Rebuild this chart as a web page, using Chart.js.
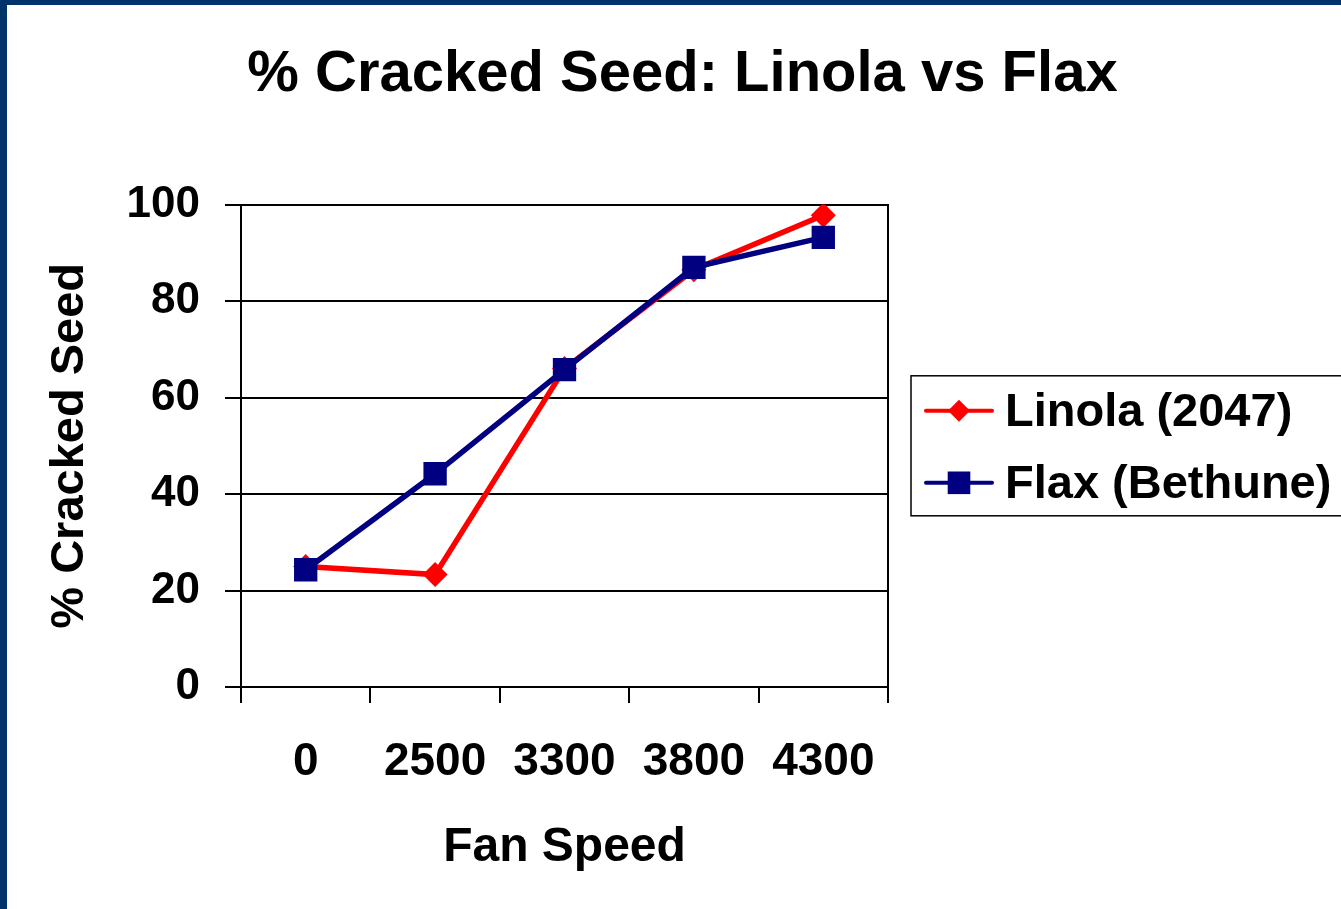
<!DOCTYPE html>
<html>
<head>
<meta charset="utf-8">
<title>% Cracked Seed: Linola vs Flax</title>
<script src="https://cdn.jsdelivr.net/npm/chart.js@4.4.1/dist/chart.umd.min.js"></script>
<style>
  html, body { margin: 0; padding: 0; background: #fff; overflow: hidden; }
  canvas { display: block; }
</style>
</head>
<body>
<canvas id="seedChart" width="1341" height="909"></canvas>
<script>
// values
const fanSpeeds = ['0', '2500', '3300', '3800', '4300'];
const linolaCracked = [25, 23.3, 66, 86.5, 97.8];
const flaxCracked = [24.3, 44.2, 65.8, 87, 93.2];
const yTicks = [0, 20, 40, 60, 80, 100];

const FONT = '"Liberation Sans", Arial, sans-serif';
Chart.defaults.font.family = FONT;
Chart.defaults.font.weight = 'bold';
Chart.defaults.color = '#000';

// dark blue slide frame on top and left edge
const slideFrame = {
  id: 'slideFrame',
  afterDraw(chart) {
    const ctx = chart.ctx;
    ctx.save();
    ctx.fillStyle = '#00336a';
    ctx.fillRect(0, 0, chart.width, 5);
    ctx.fillRect(0, 0, 7, chart.height);
    ctx.restore();
  }
};

// excel style legend box: line + marker, to the right of the plot
const boxLegend = {
  id: 'boxLegend',
  afterDraw(chart) {
    const {ctx, chartArea} = chart;
    const left = chartArea.right + 23;
    const midY = (chartArea.top + chartArea.bottom) / 2;
    const top = midY - 70;
    ctx.save();
    ctx.strokeStyle = '#000';
    ctx.lineWidth = 1.5;
    ctx.strokeRect(left, top, chart.width - left + 10, 140);
    ctx.font = 'bold 47px ' + FONT;
    ctx.textBaseline = 'middle';
    ctx.textAlign = 'left';
    const rows = [midY - 35, midY + 37];
    chart.data.datasets.forEach((ds, i) => {
      const y = rows[i];
      ctx.strokeStyle = ds.borderColor;
      ctx.lineWidth = 4;
      ctx.lineCap = 'round';
      ctx.beginPath();
      ctx.moveTo(left + 15, y);
      ctx.lineTo(left + 81, y);
      ctx.stroke();
      ctx.fillStyle = ds.backgroundColor;
      Chart.helpers.drawPoint(ctx, {
        pointStyle: ds.pointStyle,
        radius: ds.legendRadius,
        borderWidth: 0,
        rotation: 0
      }, left + 48, y);
      ctx.fillStyle = '#000';
      ctx.fillText(ds.label, left + 94, y + 2);
    });
    ctx.restore();
  }
};

const ctx = document.getElementById('seedChart').getContext('2d');
const chart = new Chart(ctx, {
  type: 'line',
  data: {
    labels: fanSpeeds,
    datasets: [
      {
        label: 'Linola (2047)',
        data: linolaCracked,
        borderColor: '#ff0000',
        backgroundColor: '#ff0000',
        borderWidth: 5.5,
        pointStyle: 'rectRot',
        pointRadius: 12.5,
        pointBorderWidth: 0,
        legendRadius: 11,
        tension: 0,
        order: 1
      },
      {
        label: 'Flax (Bethune)',
        data: flaxCracked,
        borderColor: '#000080',
        backgroundColor: '#000080',
        borderWidth: 5.5,
        pointStyle: 'rect',
        pointRadius: 16.5,
        pointBorderWidth: 0,
        legendRadius: 16,
        tension: 0,
        order: 0
      }
    ]
  },
  options: {
    responsive: false,
    animation: false,
    devicePixelRatio: 1,
    layout: { padding: { left: 24, right: 0, top: 0, bottom: 0 } },
    plugins: {
      legend: { display: false },
      tooltip: { enabled: false },
      title: {
        display: true,
        text: '% Cracked Seed: Linola vs Flax',
        color: '#000',
        font: { size: 58, weight: 'bold' },
        padding: { top: 40, bottom: 95 }
      }
    },
    scales: {
      x: {
        offset: true,
        grid: {
          offset: true,
          drawOnChartArea: false,
          color: '#000',
          lineWidth: 2,
          tickLength: 16
        },
        border: { color: '#000', width: 2 },
        ticks: { font: { size: 46 }, padding: 32, maxRotation: 0 },
        title: {
          display: true,
          text: 'Fan Speed',
          font: { size: 48 },
          padding: { top: 0, bottom: 32 }
        },
        afterFit(s) { s.height = 222; }
      },
      y: {
        min: 0,
        max: 100,
        afterBuildTicks(s) { s.ticks = yTicks.map(v => ({ value: v })); },
        grid: { color: '#000', lineWidth: 2, tickLength: 16 },
        border: { color: '#000', width: 2 },
        ticks: { font: { size: 44 }, padding: 25 },
        title: {
          display: true,
          text: '% Cracked Seed',
          font: { size: 47 },
          padding: { top: 18, bottom: 0 }
        },
        afterFit(s) { s.width = 217; }
      },
      yRight: {
        position: 'right',
        grid: { display: false, drawTicks: false },
        ticks: { display: false },
        border: { display: true, color: '#000', width: 2 },
        afterFit(s) { s.width = 453; }
      }
    }
  },
  plugins: [slideFrame, boxLegend]
});
</script>
</body>
</html>
